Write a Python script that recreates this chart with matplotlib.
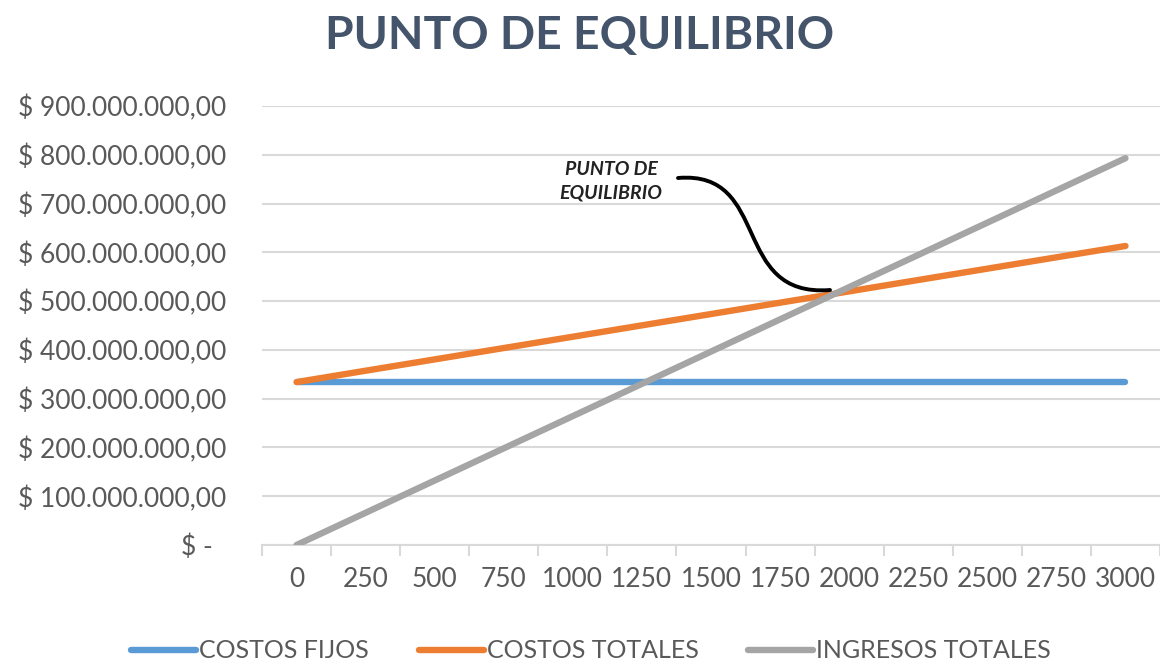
import matplotlib
matplotlib.use("Agg")
import matplotlib.pyplot as plt
from matplotlib.path import Path
from matplotlib.patches import PathPatch
from matplotlib.ticker import FixedLocator, FuncFormatter

# ---- data ----
unidades = ["0", "250", "500", "750", "1000", "1250", "1500", "1750",
            "2000", "2250", "2500", "2750", "3000"]
costos_fijos = [334e6, 334e6, 334e6, 334e6, 334e6, 334e6, 334e6,
                334e6, 334e6, 334e6, 334e6, 334e6, 334e6]
costos_totales = [334.0e6, 357.3e6, 380.5e6, 403.8e6, 427.0e6, 450.3e6, 473.5e6,
                  496.8e6, 520.0e6, 543.3e6, 566.5e6, 589.8e6, 613.0e6]
ingresos_totales = [0.0, 66.1e6, 132.2e6, 198.2e6, 264.3e6, 330.4e6, 396.5e6,
                    462.6e6, 528.7e6, 594.7e6, 660.8e6, 726.9e6, 793.0e6]
y_ticks = [0, 100e6, 200e6, 300e6, 400e6, 500e6, 600e6, 700e6, 800e6, 900e6]
series_names = ["COSTOS FIJOS", "COSTOS TOTALES", "INGRESOS TOTALES"]

FONT = "Lato"
TXT = "#595959"
GRID = "#D9D9D9"

fig = plt.figure(figsize=(11.6, 6.65), dpi=100)
fig.patch.set_facecolor("white")
ax = fig.add_axes([262/1160, 1-545/665, (1160-262)/1160, (545-106)/665])

x = list(range(len(unidades)))
colors = ["#5B9BD5", "#ED7D31", "#A5A5A5"]
for vals, name, c in zip([costos_fijos, costos_totales, ingresos_totales], series_names, colors):
    ax.plot(x, vals, color=c, lw=4.6, solid_capstyle="round", label=name, zorder=3)

ax.set_xlim(-0.5, len(unidades) - 0.5)
ax.set_ylim(0, 900e6)

ax.yaxis.set_major_locator(FixedLocator(y_ticks))
def fmt(v, pos):
    if v == 0:
        return "$ -  "
    s = f"{v:,.2f}".replace(",", "X").replace(".", ",").replace("X", ".")
    return "$ " + s
ax.yaxis.set_major_formatter(FuncFormatter(fmt))
ax.grid(axis="y", color=GRID, lw=1.5, zorder=0)
ax.tick_params(axis="y", length=0, pad=26, labelsize=19, labelcolor=TXT)
for lab in ax.get_yticklabels():
    lab.set_fontfamily(FONT)

ax.set_xticks(x)
ax.set_xticklabels(unidades, fontfamily=FONT, fontsize=19, color=TXT)
ax.set_xticks([i - 0.5 for i in range(len(unidades) + 1)], minor=True)
ax.tick_params(axis="x", which="major", length=0, pad=16)
ax.tick_params(axis="x", which="minor", length=8, width=1.5, color=GRID)

for side in ["top", "right", "left"]:
    ax.spines[side].set_visible(False)
ax.spines["bottom"].set_color(GRID)
ax.spines["bottom"].set_linewidth(1.5)
ax.spines["bottom"].set_zorder(1)

fig.text(0.5, 1-36/665, "PUNTO DE EQUILIBRIO", ha="center", va="center",
         fontsize=33.3, fontweight="bold", color="#44546A", fontfamily=FONT)

# annotation
ax.text((611-262)/898, (545-181)/439, "PUNTO DE\nEQUILIBRIO", transform=ax.transAxes,
        ha="center", va="center", fontsize=14, fontweight="bold", fontstyle="italic",
        color="#222222", fontfamily=FONT, linespacing=1.45)
def af(px, py):
    return ((px-262)/898, (545-py)/439)
verts = [af(678, 178), af(772, 170), af(730, 298), af(830, 290)]
codes = [Path.MOVETO, Path.CURVE4, Path.CURVE4, Path.CURVE4]
ax.add_patch(PathPatch(Path(verts, codes), transform=ax.transAxes, fill=False,
                       lw=2.8, color="black", capstyle="round", zorder=5))

leg = fig.legend(loc="center", bbox_to_anchor=(591/1160, 1-651/665), ncol=3, frameon=False,
                 prop={"family": FONT, "size": 18}, handlelength=2.6,
                 handletextpad=0.12, columnspacing=2.0)
for t in leg.get_texts():
    t.set_color(TXT)

fig.savefig("out.png", dpi=100)
